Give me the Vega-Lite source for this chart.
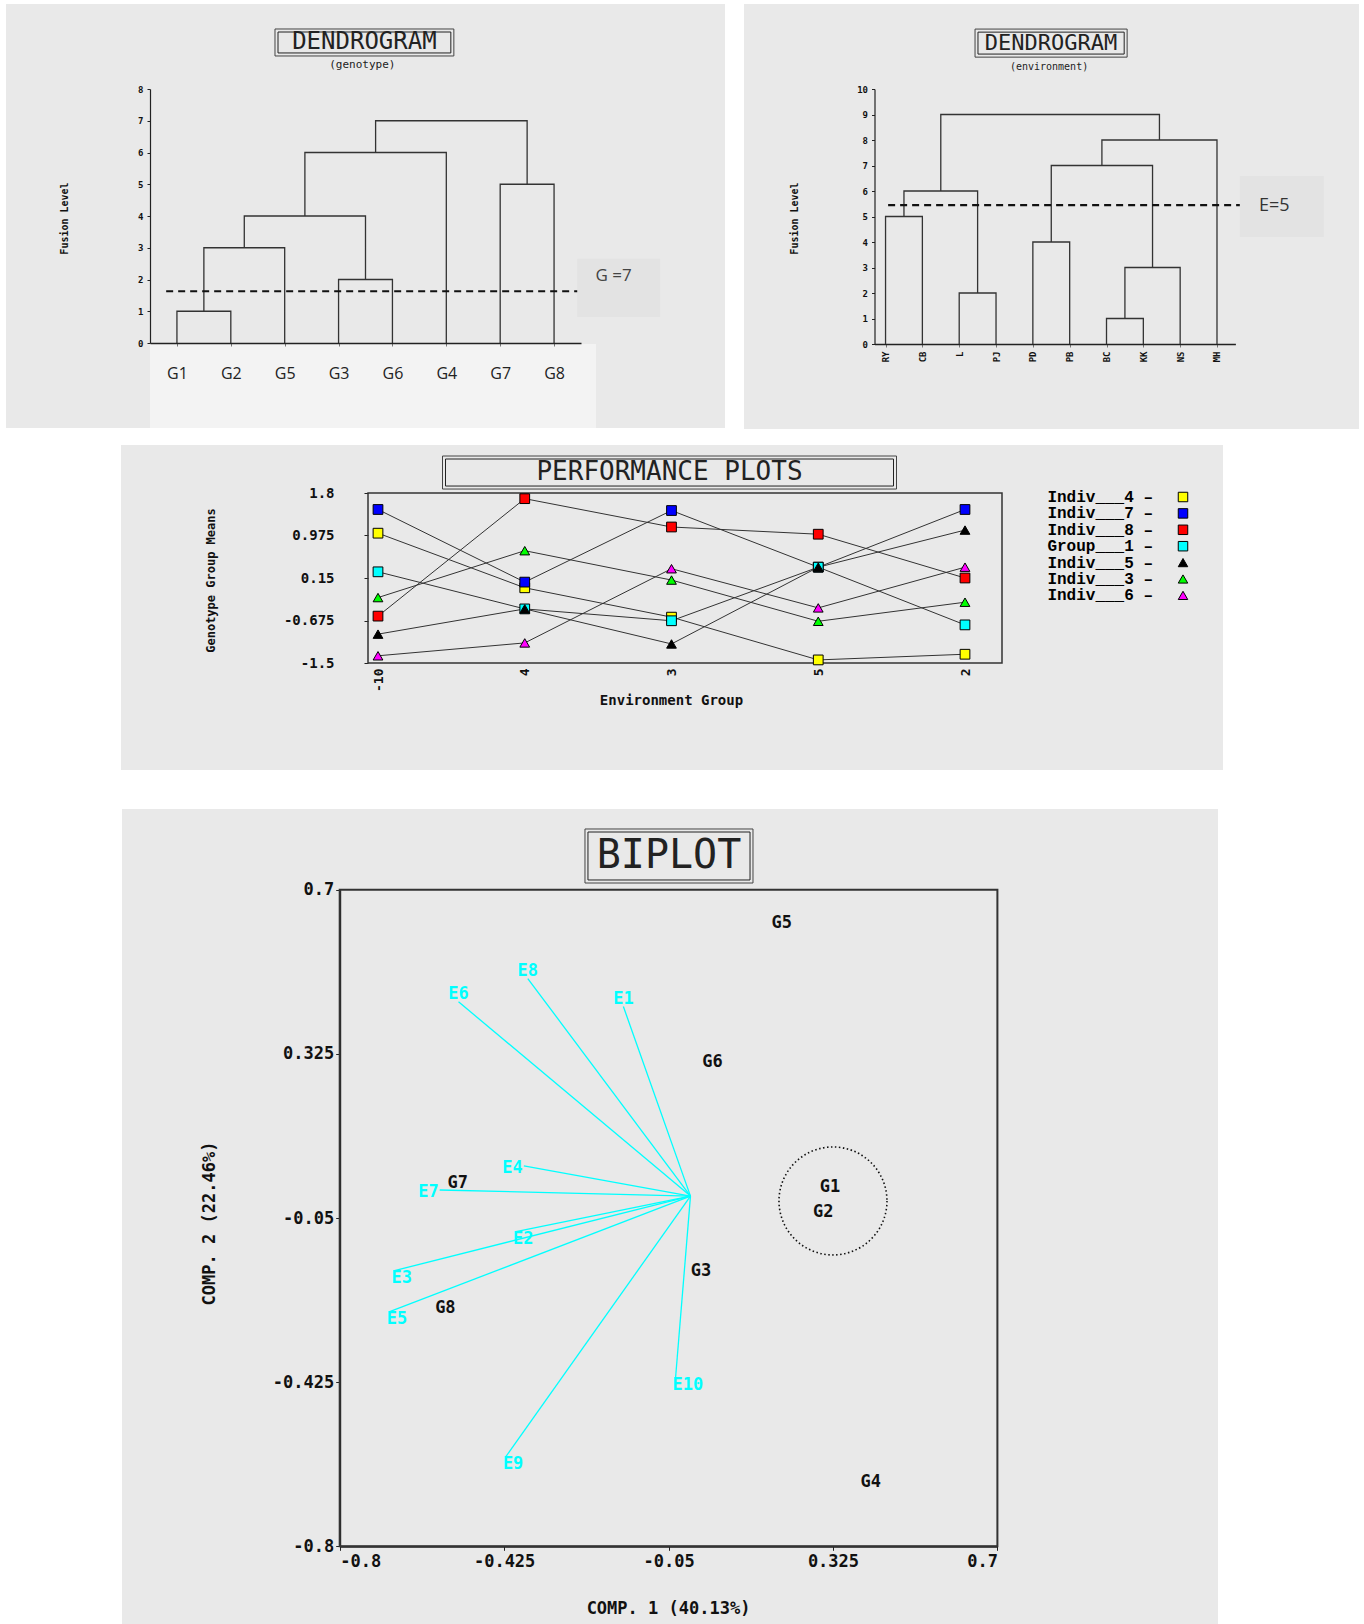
{
  "$schema": "https://vega.github.io/schema/vega-lite/v6.json",
  "background": "white",
  "padding": {"left": 6, "top": 4, "right": 0, "bottom": 0},
  "config": {
    "view": {"stroke": null},
    "font": "DejaVu Sans Mono",
    "axis": {"grid": false, "zindex": 2, "domainColor": "#222", "tickColor": "#222", "labelColor": "#111", "titleColor": "#111"}
  },
  "spacing": 16,
  "vconcat": [
    {
      "spacing": 19,
      "hconcat": [
        {
          "width": 719, "height": 424,
          "view": {"fill": "#e9e9e9", "stroke": null},
          "layer": [
            {
              "data": {"values": [{"region": "leaf labels"}]},
              "mark": {"type": "rect", "fill": "#f3f3f3"},
              "encoding": {
                "x": {"datum": 0.5, "type": "quantitative"}, "x2": {"datum": 8.78},
                "y": {"datum": -0.03, "type": "quantitative"}, "y2": {"datum": -2.68}
              }
            },
            {
              "data": {"values": [{"t": "G =7"}]},
              "mark": {"type": "rect", "fill": "#e3e3e3"},
              "encoding": {
                "x": {"datum": 8.43, "type": "quantitative"}, "x2": {"datum": 9.97},
                "y": {"datum": 2.65, "type": "quantitative"}, "y2": {"datum": 0.82}
              }
            },
            {
              "data": {"values": [{"t": "G =7"}]},
              "mark": {"type": "text", "font": "Open Sans", "fontSize": 17, "color": "#444", "align": "left", "baseline": "middle"},
              "encoding": {
                "x": {"datum": 8.77, "type": "quantitative"},
                "y": {"datum": 2.11, "type": "quantitative"},
                "text": {"field": "t"}
              }
            },
            {
              "data": {"values": [{"t": "DENDROGRAM"}]},
              "mark": {"type": "rect", "fill": "transparent", "stroke": "#444", "strokeWidth": 1},
              "encoding": {
                "x": {"datum": 2.82, "type": "quantitative"}, "x2": {"datum": 6.14},
                "y": {"datum": 9.89, "type": "quantitative"}, "y2": {"datum": 9.04}
              }
            },
            {
              "data": {"values": [{"t": "DENDROGRAM"}]},
              "mark": {"type": "rect", "fill": "transparent", "stroke": "#222", "strokeWidth": 1},
              "encoding": {
                "x": {"datum": 2.876, "type": "quantitative"}, "x2": {"datum": 6.084},
                "y": {"datum": 9.795, "type": "quantitative"}, "y2": {"datum": 9.135}
              }
            },
            {
              "data": {"values": [{"t": "DENDROGRAM"}]},
              "mark": {"type": "text", "font": "DejaVu Sans Mono", "fontSize": 24, "color": "#222", "align": "center", "baseline": "middle"},
              "encoding": {
                "x": {"datum": 4.48, "type": "quantitative"},
                "y": {"datum": 9.465, "type": "quantitative"},
                "text": {"field": "t"}
              }
            },
            {
              "data": {"values": [{"t": "(genotype)"}]},
              "mark": {"type": "text", "font": "DejaVu Sans Mono", "fontSize": 11, "color": "#222", "align": "center", "baseline": "middle"},
              "encoding": {
                "x": {"datum": 4.44, "type": "quantitative"},
                "y": {"datum": 8.76, "type": "quantitative"},
                "text": {"field": "t"}
              }
            },
            {
              "data": {"values": [
                {"link": "A", "o": 1, "x": 1, "y": 0}, {"link": "A", "o": 2, "x": 1, "y": 1}, {"link": "A", "o": 3, "x": 2, "y": 1}, {"link": "A", "o": 4, "x": 2, "y": 0},
                {"link": "B", "o": 1, "x": 1.5, "y": 1}, {"link": "B", "o": 2, "x": 1.5, "y": 3}, {"link": "B", "o": 3, "x": 3, "y": 3}, {"link": "B", "o": 4, "x": 3, "y": 0},
                {"link": "C", "o": 1, "x": 4, "y": 0}, {"link": "C", "o": 2, "x": 4, "y": 2}, {"link": "C", "o": 3, "x": 5, "y": 2}, {"link": "C", "o": 4, "x": 5, "y": 0},
                {"link": "D", "o": 1, "x": 2.25, "y": 3}, {"link": "D", "o": 2, "x": 2.25, "y": 4}, {"link": "D", "o": 3, "x": 4.5, "y": 4}, {"link": "D", "o": 4, "x": 4.5, "y": 2},
                {"link": "E", "o": 1, "x": 3.375, "y": 4}, {"link": "E", "o": 2, "x": 3.375, "y": 6}, {"link": "E", "o": 3, "x": 6, "y": 6}, {"link": "E", "o": 4, "x": 6, "y": 0},
                {"link": "F", "o": 1, "x": 7, "y": 0}, {"link": "F", "o": 2, "x": 7, "y": 5}, {"link": "F", "o": 3, "x": 8, "y": 5}, {"link": "F", "o": 4, "x": 8, "y": 0},
                {"link": "G", "o": 1, "x": 4.6875, "y": 6}, {"link": "G", "o": 2, "x": 4.6875, "y": 7}, {"link": "G", "o": 3, "x": 7.5, "y": 7}, {"link": "G", "o": 4, "x": 7.5, "y": 5}
              ]},
              "mark": {"type": "line", "color": "#333", "strokeWidth": 1.3},
              "encoding": {
                "x": {"field": "x", "type": "quantitative",
                  "scale": {"domain": [0.5, 8.5], "range": [144, 575], "nice": false, "zero": false},
                  "axis": {"orient": "bottom", "offset": -85, "zindex": 3, "values": [1, 2, 3, 4, 5, 6, 7, 8],
                    "labelExpr": "['','G1','G2','G5','G3','G6','G4','G7','G8'][datum.value]",
                    "title": null, "domainWidth": 1.5, "tickSize": 3, "tickColor": "#777",
                    "labelFont": "Open Sans", "labelFontSize": 16, "labelColor": "#222", "labelPadding": 19, "labelAngle": 0}},
                "y": {"field": "y", "type": "quantitative",
                  "scale": {"domain": [0, 8], "range": [339, 85], "nice": false, "zero": false},
                  "axis": {"orient": "left", "offset": -144, "zindex": 3, "values": [0, 1, 2, 3, 4, 5, 6, 7, 8],
                    "title": "Fusion Level", "titleX": -86, "titleY": 214, "titleAngle": 270, "titleAlign": "center", "titleBaseline": "middle",
                    "titleFont": "DejaVu Sans Mono", "titleFontSize": 10, "titleFontWeight": "bold",
                    "labelFont": "DejaVu Sans Mono", "labelFontSize": 9, "labelFontWeight": "bold", "tickSize": 3, "labelPadding": 4, "domainWidth": 1.2}},
                "detail": {"field": "link"},
                "order": {"field": "o"}
              }
            },
            {
              "data": {"values": [{"cut": "G = 7"}]},
              "mark": {"type": "rule", "color": "#111", "strokeWidth": 2.2, "strokeDash": [7, 5]},
              "encoding": {
                "x": {"datum": 0.8, "type": "quantitative"}, "x2": {"datum": 8.43},
                "y": {"datum": 1.63, "type": "quantitative"}
              }
            }
          ]
        },
        {
          "width": 615, "height": 425,
          "view": {"fill": "#e9e9e9", "stroke": null},
          "layer": [
            {
              "data": {"values": [{"t": "E=5"}]},
              "mark": {"type": "rect", "fill": "#e3e3e3"},
              "encoding": {
                "x": {"datum": 10.62, "type": "quantitative"}, "x2": {"datum": 12.9},
                "y": {"datum": 6.59, "type": "quantitative"}, "y2": {"datum": 4.2}
              }
            },
            {
              "data": {"values": [{"t": "E=5"}]},
              "mark": {"type": "text", "font": "Open Sans", "fontSize": 18, "color": "#333", "align": "left", "baseline": "middle"},
              "encoding": {
                "x": {"datum": 11.14, "type": "quantitative"},
                "y": {"datum": 5.41, "type": "quantitative"},
                "text": {"field": "t"}
              }
            },
            {
              "data": {"values": [{"t": "DENDROGRAM"}]},
              "mark": {"type": "rect", "fill": "transparent", "stroke": "#444", "strokeWidth": 1},
              "encoding": {
                "x": {"datum": 3.43, "type": "quantitative"}, "x2": {"datum": 7.56},
                "y": {"datum": 12.35, "type": "quantitative"}, "y2": {"datum": 11.25}
              }
            },
            {
              "data": {"values": [{"t": "DENDROGRAM"}]},
              "mark": {"type": "rect", "fill": "transparent", "stroke": "#222", "strokeWidth": 1},
              "encoding": {
                "x": {"datum": 3.51, "type": "quantitative"}, "x2": {"datum": 7.48},
                "y": {"datum": 12.23, "type": "quantitative"}, "y2": {"datum": 11.37}
              }
            },
            {
              "data": {"values": [{"t": "DENDROGRAM"}]},
              "mark": {"type": "text", "font": "DejaVu Sans Mono", "fontSize": 22, "color": "#222", "align": "center", "baseline": "middle"},
              "encoding": {
                "x": {"datum": 5.49, "type": "quantitative"},
                "y": {"datum": 11.8, "type": "quantitative"},
                "text": {"field": "t"}
              }
            },
            {
              "data": {"values": [{"t": "(environment)"}]},
              "mark": {"type": "text", "font": "DejaVu Sans Mono", "fontSize": 10, "color": "#222", "align": "center", "baseline": "middle"},
              "encoding": {
                "x": {"datum": 5.44, "type": "quantitative"},
                "y": {"datum": 10.86, "type": "quantitative"},
                "text": {"field": "t"}
              }
            },
            {
              "data": {"values": [
                {"link": "A", "o": 1, "x": 1, "y": 0}, {"link": "A", "o": 2, "x": 1, "y": 5}, {"link": "A", "o": 3, "x": 2, "y": 5}, {"link": "A", "o": 4, "x": 2, "y": 0},
                {"link": "B", "o": 1, "x": 3, "y": 0}, {"link": "B", "o": 2, "x": 3, "y": 2}, {"link": "B", "o": 3, "x": 4, "y": 2}, {"link": "B", "o": 4, "x": 4, "y": 0},
                {"link": "C", "o": 1, "x": 1.5, "y": 5}, {"link": "C", "o": 2, "x": 1.5, "y": 6}, {"link": "C", "o": 3, "x": 3.5, "y": 6}, {"link": "C", "o": 4, "x": 3.5, "y": 2},
                {"link": "D", "o": 1, "x": 5, "y": 0}, {"link": "D", "o": 2, "x": 5, "y": 4}, {"link": "D", "o": 3, "x": 6, "y": 4}, {"link": "D", "o": 4, "x": 6, "y": 0},
                {"link": "E", "o": 1, "x": 7, "y": 0}, {"link": "E", "o": 2, "x": 7, "y": 1}, {"link": "E", "o": 3, "x": 8, "y": 1}, {"link": "E", "o": 4, "x": 8, "y": 0},
                {"link": "F", "o": 1, "x": 7.5, "y": 1}, {"link": "F", "o": 2, "x": 7.5, "y": 3}, {"link": "F", "o": 3, "x": 9, "y": 3}, {"link": "F", "o": 4, "x": 9, "y": 0},
                {"link": "G", "o": 1, "x": 5.5, "y": 4}, {"link": "G", "o": 2, "x": 5.5, "y": 7}, {"link": "G", "o": 3, "x": 8.25, "y": 7}, {"link": "G", "o": 4, "x": 8.25, "y": 3},
                {"link": "H", "o": 1, "x": 6.875, "y": 7}, {"link": "H", "o": 2, "x": 6.875, "y": 8}, {"link": "H", "o": 3, "x": 10, "y": 8}, {"link": "H", "o": 4, "x": 10, "y": 0},
                {"link": "I", "o": 1, "x": 2.5, "y": 6}, {"link": "I", "o": 2, "x": 2.5, "y": 9}, {"link": "I", "o": 3, "x": 8.4375, "y": 9}, {"link": "I", "o": 4, "x": 8.4375, "y": 8}
              ]},
              "mark": {"type": "line", "color": "#333", "strokeWidth": 1.3},
              "encoding": {
                "x": {"field": "x", "type": "quantitative",
                  "scale": {"domain": [0.7, 10.5], "range": [130.5, 491.4], "nice": false, "zero": false},
                  "axis": {"orient": "bottom", "offset": -85, "values": [1, 2, 3, 4, 5, 6, 7, 8, 9, 10],
                    "labelExpr": "['','RY','CB','L','PJ','PD','PB','BC','KK','NS','MH'][datum.value]",
                    "title": null, "domainWidth": 1.5, "tickSize": 3, "tickColor": "#777",
                    "labelFont": "DejaVu Sans Mono", "labelFontSize": 9, "labelFontWeight": "bold", "labelPadding": 4, "labelAngle": 270}},
                "y": {"field": "y", "type": "quantitative",
                  "scale": {"domain": [0, 10], "range": [340, 85], "nice": false, "zero": false},
                  "axis": {"orient": "left", "offset": -130.5, "values": [0, 1, 2, 3, 4, 5, 6, 7, 8, 9, 10],
                    "title": "Fusion Level", "titleX": -80.5, "titleY": 214, "titleAngle": 270, "titleAlign": "center", "titleBaseline": "middle",
                    "titleFont": "DejaVu Sans Mono", "titleFontSize": 10, "titleFontWeight": "bold",
                    "labelFont": "DejaVu Sans Mono", "labelFontSize": 9, "labelFontWeight": "bold", "tickSize": 3, "labelPadding": 4, "domainWidth": 1.2}},
                "detail": {"field": "link"},
                "order": {"field": "o"}
              }
            },
            {
              "data": {"values": [{"cut": "E = 5"}]},
              "mark": {"type": "rule", "color": "#111", "strokeWidth": 2.2, "strokeDash": [7, 5]},
              "encoding": {
                "x": {"datum": 1.07, "type": "quantitative"}, "x2": {"datum": 10.62},
                "y": {"datum": 5.45, "type": "quantitative"}
              }
            }
          ]
        }
      ]
    },
    {
      "spacing": 39,
      "vconcat": [
        {
          "spacing": 0,
          "hconcat": [
            {"width": 115, "height": 1, "data": {"values": []}, "mark": "point"},
            {
              "width": 1102, "height": 325,
              "view": {"fill": "#e9e9e9", "stroke": null},
              "layer": [
                {
                  "data": {"values": [{"t": "frame"}]},
                  "mark": {"type": "rect", "fill": "transparent", "stroke": "#333", "strokeWidth": 1.5, "xOffset": -10, "x2Offset": 37},
                  "encoding": {
                    "x": {"datum": "-10", "type": "nominal"}, "x2": {"datum": "2"},
                    "y": {"datum": -1.5, "type": "quantitative"}, "y2": {"datum": 1.8}
                  }
                },
                {
                  "data": {"values": [{"t": "PERFORMANCE PLOTS"}]},
                  "mark": {"type": "rect", "fill": "transparent", "stroke": "#444", "strokeWidth": 1, "xOffset": -229, "x2Offset": 225},
                  "encoding": {
                    "x": {"datum": "3", "type": "nominal"}, "x2": {"datum": "3"},
                    "y": {"datum": 2.518, "type": "quantitative"}, "y2": {"datum": 1.877}
                  }
                },
                {
                  "data": {"values": [{"t": "PERFORMANCE PLOTS"}]},
                  "mark": {"type": "rect", "fill": "transparent", "stroke": "#222", "strokeWidth": 1, "xOffset": -226, "x2Offset": 222},
                  "encoding": {
                    "x": {"datum": "3", "type": "nominal"}, "x2": {"datum": "3"},
                    "y": {"datum": 2.46, "type": "quantitative"}, "y2": {"datum": 1.935}
                  }
                },
                {
                  "data": {"values": [{"t": "PERFORMANCE PLOTS"}]},
                  "mark": {"type": "text", "font": "DejaVu Sans Mono", "fontSize": 26, "color": "#222", "align": "center", "baseline": "middle", "dx": -2},
                  "encoding": {
                    "x": {"datum": "3", "type": "nominal"},
                    "y": {"datum": 2.198, "type": "quantitative"},
                    "text": {"field": "t"}
                  }
                },
                {
                  "data": {"name": "perf", "values": [
                    {"series": "Indiv___4", "env": "-10", "mean": 1.02}, {"series": "Indiv___4", "env": "4", "mean": -0.04}, {"series": "Indiv___4", "env": "3", "mean": -0.61}, {"series": "Indiv___4", "env": "5", "mean": -1.44}, {"series": "Indiv___4", "env": "2", "mean": -1.33},
                    {"series": "Indiv___7", "env": "-10", "mean": 1.48}, {"series": "Indiv___7", "env": "4", "mean": 0.07}, {"series": "Indiv___7", "env": "3", "mean": 1.46}, {"series": "Indiv___7", "env": "5", "mean": 0.36}, {"series": "Indiv___7", "env": "2", "mean": 1.48},
                    {"series": "Indiv___8", "env": "-10", "mean": -0.59}, {"series": "Indiv___8", "env": "4", "mean": 1.69}, {"series": "Indiv___8", "env": "3", "mean": 1.14}, {"series": "Indiv___8", "env": "5", "mean": 1.0}, {"series": "Indiv___8", "env": "2", "mean": 0.15},
                    {"series": "Group___1", "env": "-10", "mean": 0.27}, {"series": "Group___1", "env": "4", "mean": -0.45}, {"series": "Group___1", "env": "3", "mean": -0.68}, {"series": "Group___1", "env": "5", "mean": 0.36}, {"series": "Group___1", "env": "2", "mean": -0.76},
                    {"series": "Indiv___5", "env": "-10", "mean": -0.94}, {"series": "Indiv___5", "env": "4", "mean": -0.45}, {"series": "Indiv___5", "env": "3", "mean": -1.13}, {"series": "Indiv___5", "env": "5", "mean": 0.36}, {"series": "Indiv___5", "env": "2", "mean": 1.08},
                    {"series": "Indiv___3", "env": "-10", "mean": -0.23}, {"series": "Indiv___3", "env": "4", "mean": 0.68}, {"series": "Indiv___3", "env": "3", "mean": 0.11}, {"series": "Indiv___3", "env": "5", "mean": -0.69}, {"series": "Indiv___3", "env": "2", "mean": -0.32},
                    {"series": "Indiv___6", "env": "-10", "mean": -1.36}, {"series": "Indiv___6", "env": "4", "mean": -1.11}, {"series": "Indiv___6", "env": "3", "mean": 0.33}, {"series": "Indiv___6", "env": "5", "mean": -0.43}, {"series": "Indiv___6", "env": "2", "mean": 0.36}
                  ]},
                  "layer": [
                    {
                      "mark": {"type": "line", "color": "#333", "strokeWidth": 1},
                      "encoding": {
                        "x": {"field": "env", "type": "nominal",
                          "scale": {"type": "point", "domain": ["-10", "4", "3", "5", "2"], "range": [257, 844], "padding": 0},
                          "axis": {"orient": "bottom", "offset": -107, "domain": false, "tickSize": 0, "labelAngle": 270, "labelPadding": 5,
                            "labelFont": "DejaVu Sans Mono", "labelFontSize": 13, "labelFontWeight": "bold",
                            "title": "Environment Group", "titleX": 550, "titleY": 37, "titleAlign": "center", "titleBaseline": "middle",
                            "titleFont": "DejaVu Sans Mono", "titleFontSize": 14, "titleFontWeight": "bold"}},
                        "y": {"field": "mean", "type": "quantitative",
                          "scale": {"domain": [-1.5, 1.8], "range": [218, 48], "nice": false, "zero": false},
                          "axis": {"orient": "left", "offset": -247, "values": [-1.5, -0.675, 0.15, 0.975, 1.8], "labelExpr": "datum.value + ''",
                            "domain": false, "tickSize": 4, "labelPadding": 30,
                            "labelFont": "DejaVu Sans Mono", "labelFontSize": 14, "labelFontWeight": "bold",
                            "title": "Genotype Group Means", "titleX": -158, "titleY": 135, "titleAngle": 270, "titleAlign": "center", "titleBaseline": "middle",
                            "titleFont": "DejaVu Sans Mono", "titleFontSize": 12, "titleFontWeight": "bold"}},
                        "detail": {"field": "series"},
                        "order": {"value": null}
                      }
                    },
                    {
                      "mark": {"type": "point", "filled": true, "stroke": "black", "strokeWidth": 1, "size": 95, "opacity": 1},
                      "encoding": {
                        "x": {"field": "env", "type": "nominal"},
                        "y": {"field": "mean", "type": "quantitative"},
                        "color": {"field": "series", "type": "nominal",
                          "scale": {"domain": ["Indiv___4", "Indiv___7", "Indiv___8", "Group___1", "Indiv___5", "Indiv___3", "Indiv___6"],
                                    "range": ["#ffff00", "#0000ff", "#ff0000", "#00ffff", "#000000", "#00ff00", "#ff00ff"]},
                          "legend": {"orient": "none", "legendX": 1169, "legendY": 485, "title": null, "padding": 0,
                            "labelExpr": "datum.label + '  –'", "labelFont": "Liberation Mono", "labelFontSize": 16, "labelFontWeight": "bold", "labelColor": "black",
                            "labelAlign": "right", "labelOffset": -38, "symbolOffset": 0, "rowPadding": 0.4, "symbolSize": 90, "symbolStrokeColor": "black", "symbolStrokeWidth": 1}},
                        "shape": {"field": "series", "type": "nominal",
                          "scale": {"domain": ["Indiv___4", "Indiv___7", "Indiv___8", "Group___1", "Indiv___5", "Indiv___3", "Indiv___6"],
                                    "range": ["square", "square", "square", "square", "triangle-up", "triangle-up", "triangle-up"]},
                          "legend": {"orient": "none", "legendX": 1169, "legendY": 485, "title": null, "padding": 0,
                            "labelExpr": "datum.label + '  –'", "labelFont": "Liberation Mono", "labelFontSize": 16, "labelFontWeight": "bold", "labelColor": "black",
                            "labelAlign": "right", "labelOffset": -38, "symbolOffset": 0, "rowPadding": 0.4, "symbolSize": 90, "symbolStrokeColor": "black", "symbolStrokeWidth": 1}}
                      }
                    }
                  ]
                }
              ]
            }
          ]
        },
        {
          "spacing": 0,
          "hconcat": [
            {"width": 116, "height": 1, "data": {"values": []}, "mark": "point"},
            {
              "width": 1096, "height": 815,
              "view": {"fill": "#e9e9e9", "stroke": null},
              "layer": [
                {
                  "data": {"values": [{"t": "frame"}]},
                  "mark": {"type": "rect", "fill": "transparent", "stroke": "#333", "strokeWidth": 2},
                  "encoding": {
                    "x": {"datum": -0.8, "type": "quantitative"}, "x2": {"datum": 0.7},
                    "y": {"datum": -0.8, "type": "quantitative"}, "y2": {"datum": 0.7}
                  }
                },
                {
                  "data": {"values": [{"t": "BIPLOT"}]},
                  "mark": {"type": "rect", "fill": "transparent", "stroke": "#444", "strokeWidth": 1},
                  "encoding": {
                    "x": {"datum": -0.2406, "type": "quantitative"}, "x2": {"datum": 0.1426},
                    "y": {"datum": 0.8387, "type": "quantitative"}, "y2": {"datum": 0.7153}
                  }
                },
                {
                  "data": {"values": [{"t": "BIPLOT"}]},
                  "mark": {"type": "rect", "fill": "transparent", "stroke": "#222", "strokeWidth": 1},
                  "encoding": {
                    "x": {"datum": -0.2338, "type": "quantitative"}, "x2": {"datum": 0.1358},
                    "y": {"datum": 0.8318, "type": "quantitative"}, "y2": {"datum": 0.7222}
                  }
                },
                {
                  "data": {"values": [{"t": "BIPLOT"}]},
                  "mark": {"type": "text", "font": "DejaVu Sans Mono", "fontSize": 40, "color": "#222", "align": "center", "baseline": "middle"},
                  "encoding": {
                    "x": {"datum": -0.049, "type": "quantitative"},
                    "y": {"datum": 0.777, "type": "quantitative"},
                    "text": {"field": "t"}
                  }
                },
                {
                  "data": {"name": "envs", "values": [
                    {"env": "E1", "x": -0.153, "y": 0.433},
                    {"env": "E2", "x": -0.398, "y": -0.081},
                    {"env": "E3", "x": -0.675, "y": -0.17},
                    {"env": "E4", "x": -0.38, "y": 0.069},
                    {"env": "E5", "x": -0.686, "y": -0.264},
                    {"env": "E6", "x": -0.529, "y": 0.444},
                    {"env": "E7", "x": -0.572, "y": 0.014},
                    {"env": "E8", "x": -0.371, "y": 0.497},
                    {"env": "E9", "x": -0.421, "y": -0.595},
                    {"env": "E10", "x": -0.034, "y": -0.415}
                  ]},
                  "layer": [
                    {
                      "mark": {"type": "rule", "color": "#00ffff", "strokeWidth": 1.3},
                      "encoding": {
                        "x": {"field": "x", "type": "quantitative",
                          "scale": {"domain": [-0.8, 0.7], "range": [217.7, 875.4], "nice": false, "zero": false},
                          "axis": {"orient": "bottom", "offset": -77.7, "values": [-0.8, -0.425, -0.05, 0.325, 0.7], "labelExpr": "datum.value + ''",
                            "domainWidth": 2, "tickSize": 4, "labelPadding": 3,
                            "labelFont": "DejaVu Sans Mono", "labelFontSize": 17, "labelFontWeight": "bold",
                            "title": "COMP. 1 (40.13%)", "titleX": 546, "titleY": 62, "titleAlign": "center", "titleBaseline": "middle",
                            "titleFont": "DejaVu Sans Mono", "titleFontSize": 17, "titleFontWeight": "bold"}},
                        "y": {"field": "y", "type": "quantitative",
                          "scale": {"domain": [-0.8, 0.7], "range": [737.3, 80.7], "nice": false, "zero": false},
                          "axis": {"orient": "left", "offset": -217.7, "values": [-0.8, -0.425, -0.05, 0.325, 0.7], "labelExpr": "datum.value + ''",
                            "domainWidth": 2, "tickSize": 4, "labelPadding": 2,
                            "labelFont": "DejaVu Sans Mono", "labelFontSize": 17, "labelFontWeight": "bold",
                            "title": "COMP. 2 (22.46%)", "titleX": -130, "titleY": 414, "titleAngle": 270, "titleAlign": "center", "titleBaseline": "middle",
                            "titleFont": "DejaVu Sans Mono", "titleFontSize": 17, "titleFontWeight": "bold"}},
                        "x2": {"datum": 0},
                        "y2": {"datum": 0}
                      }
                    },
                    {
                      "transform": [{"filter": {"field": "env", "oneOf": ["E8", "E6", "E1"]}}],
                      "mark": {"type": "text", "font": "DejaVu Sans Mono", "fontSize": 17, "fontWeight": "bold", "color": "#00ffff", "align": "center", "baseline": "bottom", "dy": 1},
                      "encoding": {
                        "x": {"field": "x", "type": "quantitative"},
                        "y": {"field": "y", "type": "quantitative"},
                        "text": {"field": "env"}
                      }
                    },
                    {
                      "transform": [{"filter": {"field": "env", "oneOf": ["E4", "E7"]}}],
                      "mark": {"type": "text", "font": "DejaVu Sans Mono", "fontSize": 17, "fontWeight": "bold", "color": "#00ffff", "align": "right", "baseline": "middle", "dx": -1, "dy": 2},
                      "encoding": {
                        "x": {"field": "x", "type": "quantitative"},
                        "y": {"field": "y", "type": "quantitative"},
                        "text": {"field": "env"}
                      }
                    },
                    {
                      "transform": [{"filter": {"field": "env", "oneOf": ["E2", "E3", "E5", "E9", "E10"]}}],
                      "mark": {"type": "text", "font": "DejaVu Sans Mono", "fontSize": 17, "fontWeight": "bold", "color": "#00ffff", "align": "left", "baseline": "middle", "dx": -3, "dy": 7},
                      "encoding": {
                        "x": {"field": "x", "type": "quantitative"},
                        "y": {"field": "y", "type": "quantitative"},
                        "text": {"field": "env"}
                      }
                    }
                  ]
                },
                {
                  "data": {"values": [
                    {"g": "G1", "x": 0.318, "y": 0.021},
                    {"g": "G2", "x": 0.303, "y": -0.036},
                    {"g": "G3", "x": 0.024, "y": -0.17},
                    {"g": "G4", "x": 0.411, "y": -0.652},
                    {"g": "G5", "x": 0.208, "y": 0.625},
                    {"g": "G6", "x": 0.05, "y": 0.307},
                    {"g": "G7", "x": -0.531, "y": 0.029},
                    {"g": "G8", "x": -0.559, "y": -0.256}
                  ]},
                  "mark": {"type": "text", "font": "DejaVu Sans Mono", "fontSize": 17, "fontWeight": "bold", "color": "#111", "align": "center", "baseline": "middle"},
                  "encoding": {
                    "x": {"field": "x", "type": "quantitative"},
                    "y": {"field": "y", "type": "quantitative"},
                    "text": {"field": "g"}
                  }
                },
                {
                  "data": {"values": [{"cluster": "G1-G2", "x": 0.325, "y": -0.011}]},
                  "mark": {"type": "point", "shape": "circle", "filled": false, "size": 11664, "stroke": "#111", "strokeWidth": 1.6, "strokeDash": [1.5, 2.5], "opacity": 1},
                  "encoding": {
                    "x": {"field": "x", "type": "quantitative"},
                    "y": {"field": "y", "type": "quantitative"}
                  }
                }
              ]
            }
          ]
        }
      ]
    }
  ]
}
